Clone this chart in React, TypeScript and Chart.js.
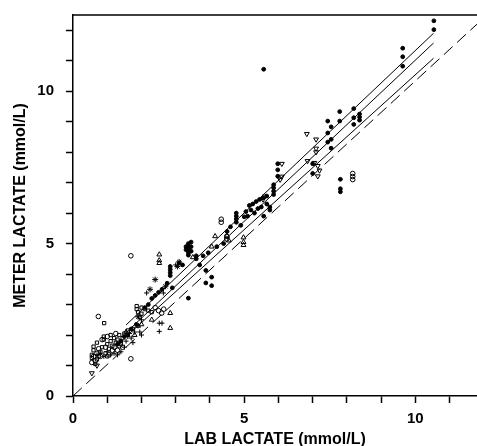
import React, { useEffect, useRef } from "react";
import { Chart, registerables } from "chart.js";

Chart.register(...registerables);

type P = [number, number];

const xTicksLabelled = [0, 5, 10];
const yTicksLabelled = [0, 5, 10];
const xTitle = "LAB LACTATE (mmol/L)";
const yTitle = "METER LACTATE (mmol/L)";

const identityLine: P[] = [[0, 0], [11.8, 12.2]];
const upperLine: P[] = [[1.55, 2.33], [10.53, 11.9]];
const middleLine: P[] = [[1.55, 2.08], [10.53, 11.58]];
const lowerLine: P[] = [[1.55, 1.95], [10.53, 11.08]];

const filledDots: P[] = [
  [10.54, 12.31], [10.54, 12.02], [9.63, 11.41], [9.63, 11.13], [9.63, 10.82], [5.57, 10.72],
  [7.44, 9.02], [7.79, 9.33], [8.2, 9.43], [7.54, 8.83], [7.79, 9.02], [8.2, 9.13], [8.2, 8.91],
  [7.44, 8.63], [7.44, 8.33], [7.54, 8.42], [7.54, 8.13], [8.37, 9.25], [8.37, 9.15], [8.37, 9.05],
  [7.81, 7.11], [7.81, 6.8], [7.81, 6.7],
  [5.98, 7.62], [5.98, 7.42], [5.98, 7.21], [7.0, 7.3], [7.0, 7.62],
  [5.86, 6.93], [5.86, 6.83], [5.86, 6.72], [5.86, 6.61],
  [5.66, 6.56], [5.55, 6.5], [5.45, 6.45], [5.35, 6.38], [5.25, 6.3], [5.15, 6.25], [5.66, 6.3],
  [5.5, 6.2], [5.4, 6.15], [5.2, 6.1], [5.05, 6.05], [5.0, 5.88], [5.1, 5.9], [5.3, 6.0],
  [5.57, 5.9], [5.75, 6.2], [5.75, 6.1],
  [4.77, 6.0], [4.77, 5.9], [4.77, 5.8], [4.77, 5.7], [4.9, 5.6], [4.6, 5.55], [4.5, 5.4],
  [3.37, 5.0], [3.37, 4.92], [3.37, 4.85], [3.37, 4.78], [3.37, 4.7], [3.37, 4.62],
  [3.45, 5.05], [3.45, 4.9], [3.45, 4.75], [3.3, 4.9], [3.3, 4.8],
  [3.6, 4.6], [3.6, 4.5], [3.7, 4.3],
  [2.84, 4.25], [2.84, 4.15], [2.84, 4.05], [2.84, 3.95], [2.75, 3.7], [2.9, 3.55],
  [3.37, 3.21], [3.88, 4.12], [3.88, 3.71], [4.05, 3.9], [4.05, 3.62],
  [3.1, 4.36], [3.2, 4.3], [2.5, 3.4], [2.4, 3.3], [2.3, 3.2], [2.6, 3.5], [2.2, 3.0], [2.1, 2.9],
  [4.4, 5.0], [4.2, 4.9], [3.95, 4.7], [3.8, 4.6],
  [1.5, 1.95], [1.6, 2.0], [1.7, 2.2], [1.85, 2.35], [1.4, 1.8], [1.3, 1.7],
];

const openCircles: P[] = [
  [1.69, 4.6], [0.74, 2.61], [1.69, 1.22], [8.17, 7.3], [8.17, 7.2], [8.17, 7.1],
  [2.59, 2.72], [2.5, 2.8], [2.4, 2.9], [2.65, 2.85],
  [0.6, 1.3], [0.7, 1.4], [0.8, 1.3], [0.85, 1.85], [0.95, 1.6], [1.05, 1.35], [1.15, 1.5],
  [1.2, 1.6], [1.3, 1.5], [1.0, 1.95], [1.25, 2.05], [0.65, 1.15], [0.75, 1.55], [1.35, 1.65],
  [1.45, 1.6], [0.55, 1.1], [4.33, 5.8], [4.33, 5.7], [4.49, 5.24], [4.49, 5.15],
];

const openTriangles: P[] = [
  [4.15, 5.24], [4.05, 4.9], [4.98, 5.2], [4.98, 5.05], [4.98, 4.95], [2.52, 4.64], [2.52, 4.45],
  [2.52, 4.36], [2.84, 2.72], [2.84, 2.23], [1.9, 2.3], [2.0, 2.35], [3.5, 4.55], [4.5, 5.25],
  [4.55, 5.1], [1.55, 2.1], [1.8, 2.0], [2.3, 2.5],
];

const invTriangles: P[] = [
  [6.83, 8.6], [7.1, 8.42], [7.1, 8.12], [7.1, 8.0], [6.85, 7.71], [7.15, 7.55], [7.15, 7.21],
  [7.05, 7.65], [7.2, 7.4], [6.1, 7.62], [6.1, 7.2], [6.05, 7.1], [5.6, 6.55], [5.55, 6.45],
  [0.55, 0.75], [0.7, 1.0],
];

const openSquares: P[] = [
  [0.55, 1.25], [0.55, 1.35], [0.6, 1.5], [0.6, 1.62], [0.7, 1.75], [0.75, 1.3], [0.8, 1.45],
  [0.85, 1.6], [0.9, 1.85], [0.9, 1.95], [0.95, 1.4], [1.0, 1.7], [1.05, 1.55], [1.1, 1.8],
  [1.1, 2.0], [1.15, 1.65], [1.2, 1.9], [1.25, 1.75], [1.3, 1.85], [1.35, 2.0], [1.4, 1.7],
  [1.45, 1.9], [1.5, 2.05], [0.65, 1.05], [0.7, 1.2], [1.0, 1.3], [0.91, 2.39], [1.6, 2.15],
  [1.75, 2.2], [1.86, 2.95], [1.86, 2.85], [1.9, 2.75], [2.0, 2.9], [2.1, 2.85], [2.0, 2.7],
  [1.95, 2.6], [2.2, 2.8], [2.3, 2.75],
];

const stars: P[] = [
  [2.4, 3.82], [2.25, 3.5], [3.1, 4.4], [1.9, 2.6], [2.7, 3.6], [3.05, 4.25],
];

const crosses: P[] = [
  [2.52, 2.39], [2.52, 2.12], [2.6, 2.39], [2.15, 3.38], [2.64, 3.38], [1.95, 2.1], [2.0, 2.0],
  [3.0, 4.3], [0.7, 1.35], [0.8, 1.4], [0.9, 1.3], [1.0, 1.45], [1.1, 1.35], [1.2, 1.4],
  [1.3, 1.35], [1.4, 1.45], [1.5, 1.6], [1.55, 1.8], [1.6, 1.95], [1.65, 2.05], [1.7, 1.9],
  [1.8, 2.1], [1.9, 2.3], [2.0, 2.5], [1.75, 1.75],
];

const toXY = (arr: P[]) => arr.map(([x, y]) => ({ x, y }));
const FONT = '"Liberation Sans", Arial, Helvetica, sans-serif';

const topBorder = {
  id: "topBorder",
  afterDraw(chart: any) {
    const { ctx, chartArea } = chart;
    ctx.save();
    ctx.strokeStyle = "#000";
    ctx.lineWidth = 1.5;
    ctx.beginPath();
    ctx.moveTo(chartArea.left, chartArea.top);
    ctx.lineTo(chart.width, chartArea.top);
    ctx.stroke();
    ctx.restore();
  },
};

function pointSet(data: P[], style: string, radius: number, filled: boolean, rotation = 0) {
  return {
    type: "scatter" as const,
    data: toXY(data),
    pointStyle: style,
    pointRadius: radius,
    pointRotation: rotation,
    pointBorderWidth: 1,
    pointBorderColor: "#000",
    pointBackgroundColor: filled ? "#000" : "rgba(0,0,0,0)",
    showLine: false,
  };
}

function lineSet(data: P[], dash: number[]) {
  return {
    type: "scatter" as const,
    data: toXY(data),
    showLine: true,
    borderColor: "#000",
    borderWidth: 1,
    borderDash: dash,
    pointRadius: 0,
    fill: false,
  };
}

export default function App() {
  const ref = useRef<HTMLCanvasElement>(null);
  useEffect(() => {
    if (!ref.current) return;
    const chart = new Chart(ref.current, {
      type: "scatter",
      data: {
        datasets: [
          lineSet(identityLine, [12, 6]),
          lineSet(upperLine, []),
          lineSet(middleLine, []),
          lineSet(lowerLine, []),
          pointSet(filledDots, "circle", 1.9, true),
          pointSet(openCircles, "circle", 2.3, false),
          pointSet(openTriangles, "triangle", 2.8, false),
          pointSet(invTriangles, "triangle", 2.8, false, 180),
          pointSet(openSquares, "rect", 2.3, false),
          pointSet(stars, "star", 3, false),
          pointSet(crosses, "cross", 2.5, false),
        ] as any,
      },
      options: {
        animation: false,
        responsive: false,
        layout: { autoPadding: false, padding: { top: 15, left: 0, right: 0, bottom: 0 } },
        plugins: { legend: { display: false }, tooltip: { enabled: false } },
        scales: {
          x: {
            type: "linear",
            min: 0,
            max: 11.8,
            afterFit: (s: any) => { s.height = 50; s.paddingLeft = 0; s.paddingRight = 0; },
            grid: { drawOnChartArea: false, drawTicks: true, tickLength: 7, tickWidth: 1.5, tickColor: "#000" },
            border: { display: true, color: "#000", width: 1.5 },
            ticks: {
              stepSize: 1,
              includeBounds: false,
              autoSkip: false,
              maxRotation: 0,
              padding: 7,
              color: "#000",
              font: { family: FONT, size: 15, weight: "bold" },
              callback: (v: any) => (xTicksLabelled.includes(Number(v)) ? String(v) : ""),
            },
            title: {
              display: true,
              text: xTitle,
              color: "#000",
              font: { family: FONT, size: 16, weight: "bold" },
              padding: { top: 0, bottom: -3 },
            },
          },
          y: {
            type: "linear",
            min: 0,
            max: 12.5,
            afterFit: (s: any) => { s.width = 73; s.paddingTop = 0; s.paddingBottom = 0; },
            grid: { drawOnChartArea: false, drawTicks: true, tickLength: 7, tickWidth: 1.5, tickColor: "#000" },
            border: { display: true, color: "#000", width: 1.5 },
            ticks: {
              stepSize: 1,
              includeBounds: false,
              autoSkip: false,
              padding: 12,
              color: "#000",
              font: { family: FONT, size: 15, weight: "bold" },
              callback: (v: any) => (yTicksLabelled.includes(Number(v)) ? String(v) : ""),
            },
            title: {
              display: true,
              text: yTitle,
              color: "#000",
              font: { family: FONT, size: 16, weight: "bold" },
              padding: { top: 11, bottom: 0 },
            },
          },
        },
      },
      plugins: [topBorder],
    });
    return () => chart.destroy();
  }, []);
  return (
    <div style={{ position: "absolute", left: 0, top: 0, width: 477, height: 446, background: "#fff" }}>
      <canvas ref={ref} width={477} height={446} style={{ width: 477, height: 446 }} />
    </div>
  );
}
